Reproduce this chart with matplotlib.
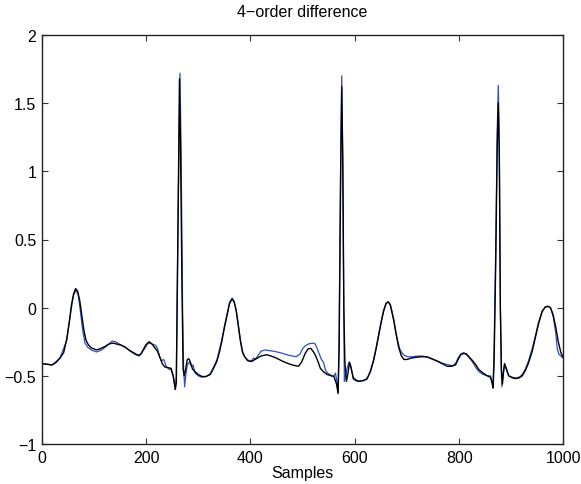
import matplotlib
matplotlib.use("Agg")
import matplotlib.pyplot as plt

# black series (samples, value)
black_x = [0, 10, 20, 28, 35, 42, 48, 53, 57, 61, 65, 69, 73, 77, 81, 85, 89, 95, 105, 113,
           121, 130, 137, 145, 152, 160, 169, 178, 185, 190, 195, 200, 206, 211, 216, 222, 227,
           231, 236, 242, 248, 252, 256, 258, 261, 264, 266, 269, 271, 273, 276, 279, 282, 285,
           289, 294, 300, 307, 315, 323, 330, 336, 341, 345, 350, 355, 360, 365, 369, 373, 377,
           381, 385, 389, 395, 402, 411, 420, 431, 440, 450, 460, 469, 480, 492, 498, 505, 511,
           516, 520, 524, 530, 534, 540, 547, 555, 560, 565, 568, 570, 573, 575, 577, 579, 581,
           584, 587, 590, 593, 597, 602, 607, 615, 623, 630, 636, 641, 645, 650, 655, 660, 664,
           668, 671, 675, 678, 684, 689, 694, 700, 708, 716, 727, 738, 748, 757, 767, 777, 785,
           793, 798, 803, 809, 814, 820, 826, 832, 838, 846, 854, 860, 863, 865, 867, 870, 873,
           875, 877, 879, 881, 883, 885, 887, 890, 895, 902, 908, 915, 921, 927, 933, 940, 946,
           952, 959, 965, 970, 975, 980, 985, 990, 995, 1000]
black_y = [-0.41, -0.415, -0.42, -0.40, -0.37, -0.33, -0.23, -0.10, 0.02, 0.10, 0.14, 0.12, 0.05,
           -0.06, -0.17, -0.24, -0.27, -0.295, -0.31, -0.30, -0.285, -0.265, -0.26, -0.268, -0.275,
           -0.29, -0.315, -0.335, -0.35, -0.34, -0.305, -0.27, -0.25, -0.265, -0.29, -0.32, -0.37,
           -0.41, -0.435, -0.44, -0.445, -0.50, -0.60, -0.55, 0.5, 1.68, 1.2, 0.1, -0.45, -0.50,
           -0.45, -0.38, -0.375, -0.40, -0.45, -0.47, -0.49, -0.505, -0.505, -0.49, -0.44, -0.39,
           -0.32, -0.25, -0.15, -0.06, 0.03, 0.065, 0.04, -0.03, -0.14, -0.25, -0.33, -0.36, -0.39,
           -0.395, -0.375, -0.355, -0.345, -0.355, -0.37, -0.39, -0.405, -0.42, -0.43, -0.40,
           -0.335, -0.30, -0.30, -0.32, -0.345, -0.40, -0.445, -0.47, -0.49, -0.50, -0.505, -0.56,
           -0.63, -0.3, 1.0, 1.62, 1.1, 0.0, -0.4, -0.54, -0.48, -0.40, -0.44, -0.52, -0.535, -0.54,
           -0.535, -0.525, -0.47, -0.39, -0.30, -0.22, -0.12, -0.03, 0.03, 0.042, 0.02, -0.03,
           -0.10, -0.17, -0.29, -0.35, -0.38, -0.38, -0.37, -0.365, -0.36, -0.36, -0.375, -0.39,
           -0.41, -0.43, -0.43, -0.42, -0.38, -0.345, -0.335, -0.34, -0.365, -0.39, -0.42, -0.455,
           -0.48, -0.50, -0.51, -0.55, -0.59, -0.4, 0.3, 1.2, 1.50, 1.1, 0.0, -0.45, -0.56, -0.47,
           -0.41, -0.44, -0.50, -0.515, -0.52, -0.515, -0.50, -0.46, -0.405, -0.32, -0.22, -0.12,
           -0.03, 0.005, 0.01, 0.0, -0.05, -0.14, -0.25, -0.33, -0.37]

# blue series (samples, value)
blue_x = [0, 20, 35, 48, 57, 61, 66, 70, 74, 77, 80, 83, 88, 95, 105, 115, 125, 135, 142, 150,
          160, 170, 180, 187, 192, 197, 203, 208, 213, 218, 222, 226, 230, 234, 238, 243, 248,
          252, 256, 258, 261, 265, 267, 270, 272, 274, 276, 279, 283, 287, 290, 294, 300, 307,
          315, 323, 330, 336, 341, 345, 350, 355, 360, 365, 369, 373, 377, 381, 385, 389, 395,
          402, 406, 410, 414, 420, 428, 437, 445, 457, 465, 475, 488, 495, 500, 505, 512, 520,
          524, 528, 532, 536, 540, 544, 548, 552, 556, 560, 563, 566, 568, 570, 573, 575, 577,
          579, 580, 582, 585, 589, 592, 597, 603, 610, 618, 625, 630, 636, 641, 645, 650, 655,
          660, 664, 668, 671, 675, 678, 682, 686, 690, 695, 702, 710, 720, 730, 740, 750, 760,
          770, 780, 788, 793, 798, 803, 809, 814, 820, 826, 832, 838, 846, 854, 860, 863, 865,
          867, 870, 873, 875, 877, 879, 881, 882, 884, 887, 890, 895, 902, 908, 915, 921, 927,
          933, 940, 946, 952, 959, 965, 970, 975, 980, 985, 988, 991, 995, 1000]
blue_y = [-0.41, -0.42, -0.37, -0.24, 0.0, 0.09, 0.13, 0.09, -0.02, -0.12, -0.20, -0.26, -0.29,
          -0.31, -0.325, -0.31, -0.28, -0.245, -0.25, -0.27, -0.29, -0.32, -0.345, -0.355, -0.33,
          -0.30, -0.265, -0.26, -0.27, -0.275, -0.30, -0.36, -0.39, -0.38, -0.425, -0.45, -0.455,
          -0.50, -0.60, -0.5, 0.6, 1.72, 1.2, 0.0, -0.45, -0.58, -0.5, -0.42, -0.40, -0.43, -0.42,
          -0.48, -0.50, -0.51, -0.505, -0.485, -0.43, -0.38, -0.30, -0.24, -0.14, -0.05, 0.04,
          0.07, 0.045, -0.02, -0.13, -0.24, -0.32, -0.36, -0.385, -0.39, -0.37, -0.375, -0.355,
          -0.32, -0.31, -0.315, -0.32, -0.33, -0.34, -0.35, -0.36, -0.34, -0.30, -0.28, -0.265,
          -0.26, -0.265, -0.30, -0.34, -0.38, -0.40, -0.46, -0.48, -0.49, -0.50, -0.50, -0.48,
          -0.55, -0.62, -0.2, 1.1, 1.70, 1.0, -0.1, -0.54, -0.5, -0.45, -0.40, -0.43, -0.51, -0.53,
          -0.54, -0.535, -0.51, -0.46, -0.38, -0.29, -0.21, -0.11, -0.02, 0.035, 0.045, 0.025,
          -0.02, -0.09, -0.16, -0.24, -0.30, -0.33, -0.35, -0.36, -0.36, -0.355, -0.355, -0.365,
          -0.38, -0.395, -0.41, -0.42, -0.425, -0.41, -0.37, -0.34, -0.33, -0.345, -0.37, -0.40,
          -0.44, -0.47, -0.49, -0.50, -0.50, -0.54, -0.58, -0.3, 0.4, 1.3, 1.63, 1.2, 0.0, -0.5,
          -0.58, -0.5, -0.42, -0.45, -0.50, -0.51, -0.515, -0.51, -0.49, -0.45, -0.39, -0.30,
          -0.21, -0.11, -0.025, 0.005, 0.01, 0.0, -0.06, -0.18, -0.30, -0.34, -0.355, -0.37]

x_ticks = [0, 200, 400, 600, 800, 1000]
y_ticks = [-1, -0.5, 0, 0.5, 1, 1.5, 2]
y_ticklabels = ["\u22121", "\u22120.5", "0", "0.5", "1", "1.5", "2"]
title_text = "4\u2212order difference"
xlabel_text = "Samples"

plt.rcParams['font.family'] = ['Liberation Sans', 'DejaVu Sans']

fig = plt.figure(figsize=(5.81, 4.85), dpi=100)
ax = fig.add_axes([41.7 / 581, 1 - 445 / 485, (563.5 - 41.7) / 581, (445 - 36) / 485])

ax.plot(blue_x, blue_y, color='#2e4fc4', linewidth=0.9)
ax.plot(black_x, black_y, color='black', linewidth=1.0)

ax.set_xlim(0, 1000)
ax.set_ylim(-1, 2)
ax.set_xticks(x_ticks)
ax.set_xticklabels([str(t) for t in x_ticks])
ax.set_yticks(y_ticks)
ax.set_yticklabels(y_ticklabels)
ax.tick_params(direction='in', length=4, width=0.8, top=True, right=True,
               labelsize=11.5, colors='#333333', labelcolor='black')
ax.tick_params(axis='x', pad=4)
ax.tick_params(axis='y', pad=4)
for s in ax.spines.values():
    s.set_linewidth(1.0)
    s.set_color('#222222')

ax.set_title(title_text, fontsize=11.5, pad=14)
ax.set_xlabel(xlabel_text, fontsize=11.5, labelpad=0.5)

fig.savefig('out.png', dpi=100)
